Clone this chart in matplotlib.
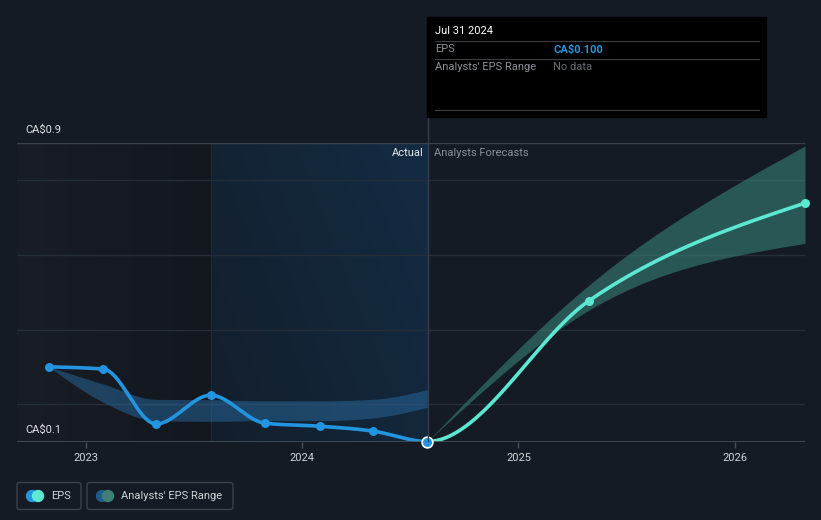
import numpy as np
import pandas as pd
import matplotlib
matplotlib.use("Agg")
import matplotlib.pyplot as plt
import matplotlib.dates as mdates
from matplotlib.patches import Rectangle, FancyBboxPatch, Ellipse

plt.rcParams['font.family'] = ['Roboto', 'DejaVu Sans']

# --- data ---
actual_dates = ["2022-10-31", "2023-01-31", "2023-04-30", "2023-07-31",
                "2023-10-31", "2024-01-31", "2024-04-30", "2024-07-31"]
actual_eps = [0.300, 0.294, 0.147, 0.224, 0.149, 0.141, 0.128, 0.100]

past_low = [0.300, 0.205, 0.156, 0.154, 0.156, 0.156, 0.163, 0.192]
past_high = [0.300, 0.254, 0.213, 0.212, 0.209, 0.209, 0.213, 0.239]

fc_dates = ["2024-07-31", "2025-04-30", "2026-04-30"]
fc_eps = [0.100, 0.477, 0.739]
fc_low = [0.100, 0.452, 0.631]
fc_high = [0.100, 0.519, 0.892]

year_ticks = ["2023", "2024", "2025", "2026"]

W, H = 821, 520
BG = "#151b24"
BLUE = "#2394df"
MINT = "#5ce8d0"


def monotone(xs, ys, n=60):
    # d3 curveMonotoneX style
    xs = np.asarray(xs, float)
    ys = np.asarray(ys, float)
    h = np.diff(xs)
    s = np.diff(ys) / h
    k = len(xs)
    t = np.zeros(k)
    for i in range(1, k - 1):
        p = (s[i - 1] * h[i] + s[i] * h[i - 1]) / (h[i - 1] + h[i])
        t[i] = (np.sign(s[i - 1]) + np.sign(s[i])) * min(abs(s[i - 1]), abs(s[i]), 0.5 * abs(p))
    if k > 2:
        t[0] = (3 * s[0] - t[1]) / 2
        t[-1] = (3 * s[-1] - t[-2]) / 2
    else:
        t[:] = s[0]
    ox, oy = [], []
    for i in range(k - 1):
        u = np.linspace(0, 1, n)
        h00 = 2 * u**3 - 3 * u**2 + 1
        h10 = u**3 - 2 * u**2 + u
        h01 = -2 * u**3 + 3 * u**2
        h11 = u**3 - u**2
        y = h00 * ys[i] + h10 * h[i] * t[i] + h01 * ys[i + 1] + h11 * h[i] * t[i + 1]
        ox.append(xs[i] + u * h[i])
        oy.append(y)
    return np.concatenate(ox), np.concatenate(oy)


ad = mdates.date2num(pd.to_datetime(actual_dates))
fd = mdates.date2num(pd.to_datetime(fc_dates))

fig = plt.figure(figsize=(W / 100, H / 100), dpi=100, facecolor=BG)
ax = fig.add_axes([17 / W, 1 - 441.5 / H, (805 - 17) / W, (441.5 - 143) / H])
ax.set_facecolor(BG)

x0 = mdates.date2num(pd.Timestamp("2022-09-07"))
x1 = mdates.date2num(pd.Timestamp("2026-04-30"))
ax.set_xlim(x0, x1)
ax.set_ylim(0.1, 0.9)

# background shading
split = ad[3]
now = ad[-1]
g = np.linspace(0, 1, 256)
left_img = np.zeros((2, 256, 4))
c1 = np.array([0x18, 0x1d, 0x26]) / 255
c2 = np.array([0x13, 0x17, 0x1e]) / 255
left_img[..., :3] = c1 + (c2 - c1) * g[None, :, None]
left_img[..., 3] = 1
ax.imshow(left_img, extent=[x0, split, 0.1, 0.9], aspect='auto', zorder=0)

hl = np.zeros((128, 256, 4))
gx = np.linspace(0, 1, 256)[None, :]
gy = np.linspace(0, 1, 128)[:, None]
a1 = np.array([0x13, 0x1e, 0x2b]) / 255
a2 = np.array([0x14, 0x2c, 0x44]) / 255
mix = np.clip(0.65 * gx + 0.35 * (1 - gy), 0, 1)
hl[..., :3] = a1 + (a2 - a1) * mix[..., None]
hl[..., 3] = 1
ax.imshow(hl, extent=[split, now, 0.1, 0.9], aspect='auto', zorder=0, origin='upper')
ax.axvline(split, color="#182c3e", lw=0.8, zorder=1)

# grid
for gv in [0.2, 0.4, 0.6, 0.8]:
    ax.axhline(gv, color="#252d37", lw=1, zorder=1)
ax.axhline(0.9, color="#3c424b", lw=1, zorder=1)
ax.axhline(0.1, color="#4a5059", lw=1.2, zorder=6)

# bands
bx, bl = monotone(ad, past_low)
_, bh = monotone(ad, past_high)
ax.fill_between(bx, bl, bh, color="#2a73ad", alpha=0.45, lw=0, zorder=2)

fx_, fl = monotone(fd, fc_low)
_, fh = monotone(fd, fc_high)
ax.fill_between(fx_, fl, fh, color="#3a8a80", alpha=0.55, lw=0, zorder=2)

# line: one monotone curve through all points, split colours at the last actual
all_x = np.concatenate([ad, fd[1:]])
all_y = np.concatenate([actual_eps, fc_eps[1:]])
cx, cy = monotone(all_x, all_y)
ax.plot(cx[cx <= now], cy[cx <= now], color=BLUE, lw=2.6, zorder=4, solid_capstyle='round')
ax.plot(cx[cx >= now], cy[cx >= now], color=MINT, lw=2.6, zorder=4, solid_capstyle='round')
ax.scatter(ad[:-1], actual_eps[:-1], s=42, color=BLUE, zorder=5, lw=0)
ax.scatter(fd[1:], fc_eps[1:], s=42, color=MINT, zorder=5, lw=0, clip_on=False)
ax.scatter([ad[-1]], [actual_eps[-1]], s=60, color=BLUE, edgecolor="white", lw=1.2, zorder=7, clip_on=False)

ax.text(now - 6, 0.873, "Actual", color="#e6e8eb", fontsize=8, ha="right", va="center", zorder=6)
ax.text(now + 12, 0.873, "Analysts Forecasts", color="#8a9099", fontsize=8, ha="left", va="center", zorder=6)

# axes styling
for sp in ax.spines.values():
    sp.set_visible(False)
ax.set_yticks([])
ax.set_xticks(mdates.date2num(pd.to_datetime([y + "-01-01" for y in year_ticks])))
ax.set_xticklabels(year_ticks)
ax.tick_params(axis='x', colors="#4a5059", length=4, width=1, labelcolor="#d0d3d8",
               labelsize=8, pad=4)

# y labels
fig.text(25 / W, 1 - 130 / H, "CA\\$0.9", color="#e0e2e6", fontsize=8, va="center")
fig.text(25 / W, 1 - 430 / H, "CA\\$0.1", color="#e0e2e6", fontsize=8, va="center")

# vertical marker line up to tooltip
fig.add_artist(plt.Line2D([427.5 / W, 427.5 / W], [1 - 441 / H, 1 - 117 / H],
                          color="#34404f", lw=1, zorder=3))

# tooltip
fig.add_artist(Rectangle((427 / W, 1 - 117 / H), (766 - 427) / W, 100 / H,
                         transform=fig.transFigure, color="black", zorder=8))
for yy in [41.5, 58.5, 109.5]:
    fig.add_artist(plt.Line2D([435 / W, 759 / W], [1 - yy / H] * 2, color="#3d3f43",
                              lw=0.8, zorder=9))
fig.text(435 / W, 1 - 31 / H, "Jul 31 2024", color="white", fontsize=8, va="center", zorder=10)
fig.text(435 / W, 1 - 49.5 / H, "EPS", color="#8c9096", fontsize=8, va="center", zorder=10)
fig.text(553 / W, 1 - 49.5 / H, "CA\\$0.100", color=BLUE, fontsize=8, fontweight="bold",
         va="center", zorder=10)
fig.text(435 / W, 1 - 66.5 / H, "Analysts' EPS Range", color="#8c9096", fontsize=8,
         va="center", zorder=10)
fig.text(553 / W, 1 - 66.5 / H, "No data", color="#6a6e74", fontsize=8, va="center", zorder=10)


# legend
def legend_box(xl, xr, label, ca, cb):
    fig.add_artist(FancyBboxPatch((xl / W, 1 - 509.5 / H), (xr - xl) / W, 27 / H,
                                  boxstyle="round,pad=0,rounding_size=0.004",
                                  transform=fig.transFigure, facecolor="none",
                                  edgecolor="#3b414a", lw=1))
    cy_ = 1 - 496 / H
    fig.add_artist(Ellipse(((xl + 15) / W, cy_), 11 / W, 11 / H,
                           transform=fig.transFigure, color=ca))
    fig.add_artist(Ellipse(((xl + 21) / W, cy_), 11 / W, 11 / H,
                           transform=fig.transFigure, color=cb))
    fig.text((xl + 34) / W, cy_, label, color="#d0d3d8", fontsize=8, va="center")


legend_box(17, 81, "EPS", BLUE, MINT)
legend_box(87, 233, "Analysts' EPS Range", "#1f5b8c", "#3f7f78")

fig.savefig("out.png", dpi=100, facecolor=BG)
